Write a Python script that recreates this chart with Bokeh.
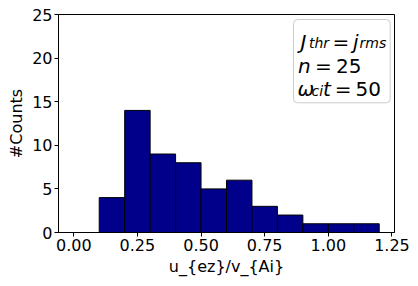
from bokeh.plotting import figure
from bokeh.models import Range1d, FixedTicker, Label, ColumnDataSource
from bokeh.embed import file_html
from bokeh.resources import INLINE

# Data
bin_edges = [0.0, 0.1, 0.2, 0.3, 0.4, 0.5, 0.6, 0.7, 0.8, 0.9, 1.0, 1.1, 1.2]
counts = [0, 4, 14, 9, 8, 5, 6, 3, 2, 1, 1, 1]
x_ticks = [0.0, 0.25, 0.5, 0.75, 1.0, 1.25]
x_tick_labels = ["0.00", "0.25", "0.50", "0.75", "1.00", "1.25"]
y_ticks = [0, 5, 10, 15, 20, 25]

FONT = "DejaVu Sans"
X0, X1, Y0, Y1 = -0.06, 1.26, 0, 25
FL, FR, FT, FB = 58, 394, 14, 232  # frame edges in picture pixels

p = figure(width=418, height=286, x_range=Range1d(X0, X1), y_range=Range1d(Y0, Y1),
           output_backend="svg", toolbar_location=None,
           min_border_left=FL, min_border_right=418 - FR, min_border_top=FT,
           min_border_bottom=286 - FB)

src = ColumnDataSource(dict(left=bin_edges[:-1], right=bin_edges[1:],
                            top=counts, bottom=[0] * len(counts)))
p.quad(left="left", right="right", top="top", bottom="bottom", source=src,
       fill_color="#00008B", line_color="black", line_width=1)

p.xgrid.visible = False
p.ygrid.visible = False
p.outline_line_color = "black"
p.outline_line_width = 1
p.background_fill_color = "white"
p.border_fill_color = "white"

p.xaxis.ticker = FixedTicker(ticks=x_ticks)
p.xaxis.major_label_overrides = {t: l for t, l in zip(x_ticks, x_tick_labels)}
p.yaxis.ticker = FixedTicker(ticks=y_ticks)

for ax in (p.xaxis[0], p.yaxis[0]):
    ax.axis_line_color = "black"
    ax.axis_line_width = 1
    ax.major_tick_line_color = "black"
    ax.major_tick_out = 4
    ax.major_tick_in = 0
    ax.minor_tick_out = 0
    ax.minor_tick_in = 0
    ax.major_label_text_font = FONT
    ax.major_label_text_font_size = "16px"
    ax.major_label_text_color = "black"
    ax.major_label_standoff = 2
    ax.axis_label_text_font = FONT
    ax.axis_label_text_font_size = "16px"
    ax.axis_label_text_font_style = "normal"
    ax.axis_label_text_color = "black"
    ax.axis_label_standoff = 3

p.xaxis.axis_label = "u_{ez}/v_{Ai}"
p.yaxis.axis_label = "#Counts"

# pixel -> data helpers for the annotation box
def dx(px):
    return X0 + (px - FL) / (FR - FL) * (X1 - X0)
def dy(py):
    return Y0 + (FB - py) / (FB - FT) * (Y1 - Y0)

box_kw = dict(left=[dx(293)], right=[dx(389.7)], top=[dy(19)], bottom=[dy(102.3)],
              fill_color="white", fill_alpha=0.8, line_color="#cccccc", line_width=1)
try:
    p.quad(border_radius=4, **box_kw)
except Exception:
    p.quad(**box_kw)

pieces = [
    # text, pixel x, pixel baseline y, size, italic
    ("J", 300, 41, 20, True),
    ("thr", 308.5, 42.5, 14, True),
    ("=", 332, 41, 20, False),
    ("j", 352.5, 41, 20, True),
    ("rms", 359, 42.5, 14, True),
    ("n", 297.5, 65, 20, True),
    ("=", 314.5, 65, 20, False),
    ("25", 335.5, 65, 20, False),
    ("ω", 297, 88, 20, True),
    ("ci", 311, 90.5, 14, True),
    ("t", 322.6, 88, 20, True),
    ("=", 334.2, 88, 20, False),
    ("50", 355, 88, 20, False),
]
for txt, x, y, size, it in pieces:
    p.add_layout(Label(x=dx(x), y=dy(y), text=txt,
                       text_font=FONT, text_font_size=f"{size}px",
                       text_font_style="italic" if it else "normal",
                       text_color="black", text_baseline="alphabetic", text_align="left"))

open("out.html", "w").write(file_html(p, INLINE))
